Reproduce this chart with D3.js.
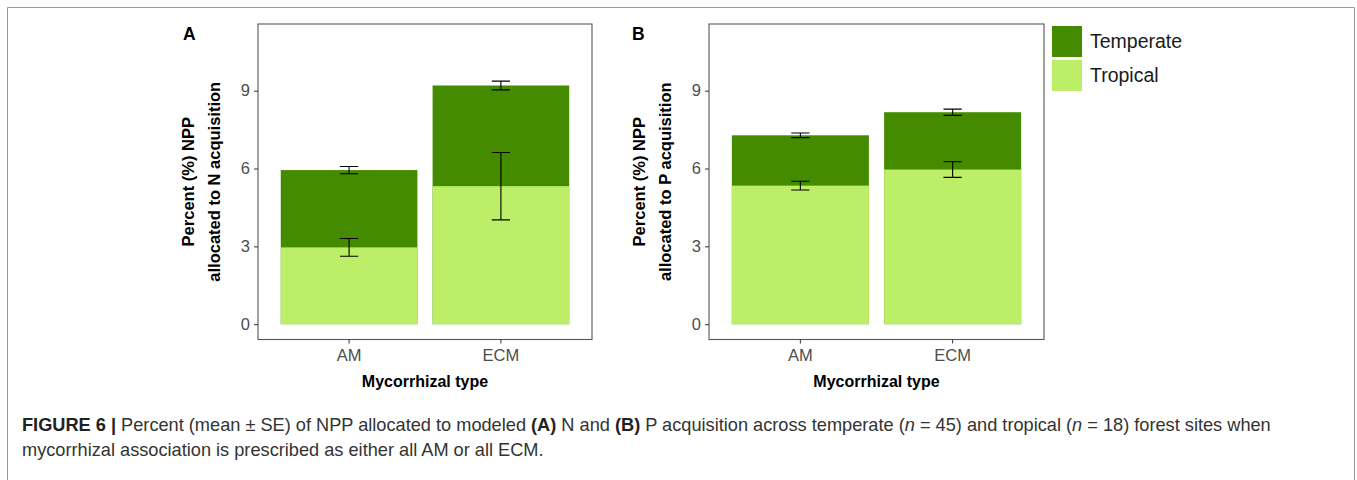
<!DOCTYPE html>
<html>
<head>
<meta charset="utf-8">
<script src="https://cdn.jsdelivr.net/npm/d3@7"></script>
<style>
  body { margin: 0; background: #fff; }
  svg { display: block; font-family: "Liberation Sans", Arial, sans-serif; }
</style>
</head>
<body>
<svg id="fig" width="1357" height="480"></svg>
<script>
// ---- data ----
const types = ["AM", "ECM"];
const series = ["Temperate", "Tropical"];
const seriesColors = ["#458B00", "#BCEE68"];
const yTicks = [0, 3, 6, 9];

// panel A: N acquisition
const nTemperate = [5.94, 9.20];
const nTemperateSE = [0.14, 0.17];
const nTropical = [2.96, 5.32];
const nTropicalSE = [0.34, 1.30];

// panel B: P acquisition
const pTemperate = [7.28, 8.17];
const pTemperateSE = [0.09, 0.12];
const pTropical = [5.34, 5.96];
const pTropicalSE = [0.17, 0.30];

const svg = d3.select("#fig");

// outer figure frame
svg.append("path")
    .attr("d", "M7.5,480V7.5H1354.5V480")
    .attr("fill", "none")
    .attr("stroke", "#9a9a9a")
    .attr("stroke-width", 1);

function panel(opts) {
    const { left, right, top, bottom, letter, yLine2, temperate, temperateSE, tropical, tropicalSE } = opts;

    const x = d3.scaleBand().domain(types).range([left, right])
        .paddingInner(0.1).paddingOuter(0.15);
    const y = d3.scaleLinear().domain([-0.59, 11.57]).range([bottom, top]);

    const g = svg.append("g");

    // bars: temperate drawn behind, tropical in front (overlapping, not stacked)
    const layers = [
        { vals: temperate, se: temperateSE, color: seriesColors[0] },
        { vals: tropical, se: tropicalSE, color: seriesColors[1] }
    ];
    layers.forEach(l => {
        g.append("g").selectAll("rect")
            .data(types)
            .enter().append("rect")
            .attr("x", d => x(d))
            .attr("width", x.bandwidth())
            .attr("y", (d, i) => y(l.vals[i]))
            .attr("height", (d, i) => y(0) - y(l.vals[i]))
            .attr("fill", l.color);
    });

    // error bars
    const cap = x.step() * 0.12;
    layers.forEach(l => {
        const eb = g.append("g").attr("stroke", "#000").attr("stroke-width", 1.1).attr("fill", "none");
        types.forEach((t, i) => {
            const cx = x(t) + x.bandwidth() / 2;
            const lo = y(l.vals[i] - l.se[i]);
            const hi = y(l.vals[i] + l.se[i]);
            eb.append("path")
                .attr("d", `M${cx - cap / 2},${hi}H${cx + cap / 2}M${cx},${hi}V${lo}M${cx - cap / 2},${lo}H${cx + cap / 2}`);
        });
    });

    // panel border
    g.append("rect")
        .attr("x", left).attr("y", top)
        .attr("width", right - left).attr("height", bottom - top)
        .attr("fill", "none").attr("stroke", "#555").attr("stroke-width", 1.1);

    // y axis
    const ya = g.append("g").attr("transform", `translate(${left},0)`)
        .call(d3.axisLeft(y).tickValues(yTicks).tickSize(4).tickPadding(4).tickFormat(d3.format("d")));
    ya.select(".domain").remove();
    ya.selectAll("line").attr("stroke", "#333");
    ya.selectAll("text").attr("fill", "#4d4d4d").style("font-size", "16.5px")
        .style("font-family", "Liberation Sans, Arial, sans-serif");

    // x axis
    const xa = g.append("g").attr("transform", `translate(0,${bottom})`)
        .call(d3.axisBottom(x).tickSize(4).tickPadding(6));
    xa.select(".domain").remove();
    xa.selectAll("line").attr("stroke", "#333");
    xa.selectAll("text").attr("fill", "#4d4d4d").style("font-size", "16.5px")
        .style("font-family", "Liberation Sans, Arial, sans-serif");

    // titles
    g.append("text")
        .attr("x", (left + right) / 2).attr("y", 387)
        .attr("text-anchor", "middle")
        .style("font-size", "16px").style("font-weight", "bold")
        .text("Mycorrhizal type");

    const cy = (top + bottom) / 2;
    [["Percent (%) NPP", 64], [yLine2, 38]].forEach(([t, off]) => {
        g.append("text")
            .attr("transform", `translate(${left - off},${cy}) rotate(-90)`)
            .attr("text-anchor", "middle")
            .style("font-size", "16.5px").style("font-weight", "bold")
            .text(t);
    });

    g.append("text")
        .attr("x", opts.letterX).attr("y", 40)
        .style("font-size", "17.5px").style("font-weight", "bold")
        .text(letter);
}

panel({
    left: 258, right: 592, top: 24, bottom: 339.5, letter: "A", letterX: 183,
    yLine2: "allocated to N acquisition",
    temperate: nTemperate, temperateSE: nTemperateSE, tropical: nTropical, tropicalSE: nTropicalSE
});
panel({
    left: 709, right: 1044, top: 24, bottom: 339.5, letter: "B", letterX: 632,
    yLine2: "allocated to P acquisition",
    temperate: pTemperate, temperateSE: pTemperateSE, tropical: pTropical, tropicalSE: pTropicalSE
});

// legend
const leg = svg.append("g").attr("transform", "translate(1052,26)");
series.forEach((s, i) => {
    leg.append("rect")
        .attr("x", 0).attr("y", i * 34)
        .attr("width", 30).attr("height", 31)
        .attr("fill", seriesColors[i]);
    leg.append("text")
        .attr("x", 38).attr("y", i * 34 + 22)
        .style("font-size", "19.5px").attr("fill", "#1a1a1a")
        .text(s);
});

// caption
const cap = svg.append("g").style("font-size", "18.2px").attr("fill", "#333");
const l1 = cap.append("text").attr("x", 22).attr("y", 431);
l1.append("tspan").style("font-weight", "bold").attr("fill", "#222").text("FIGURE 6 | ");
l1.append("tspan").text("Percent (mean \u00b1 SE) of NPP allocated to modeled ");
l1.append("tspan").style("font-weight", "bold").attr("fill", "#222").text("(A)");
l1.append("tspan").text(" N and ");
l1.append("tspan").style("font-weight", "bold").attr("fill", "#222").text("(B)");
l1.append("tspan").text(" P acquisition across temperate (");
l1.append("tspan").style("font-style", "italic").text("n");
l1.append("tspan").text(" = 45) and tropical (");
l1.append("tspan").style("font-style", "italic").text("n");
l1.append("tspan").text(" = 18) forest sites when");
cap.append("text").attr("x", 22).attr("y", 456)
    .text("mycorrhizal association is prescribed as either all AM or all ECM.");
</script>
</body>
</html>
